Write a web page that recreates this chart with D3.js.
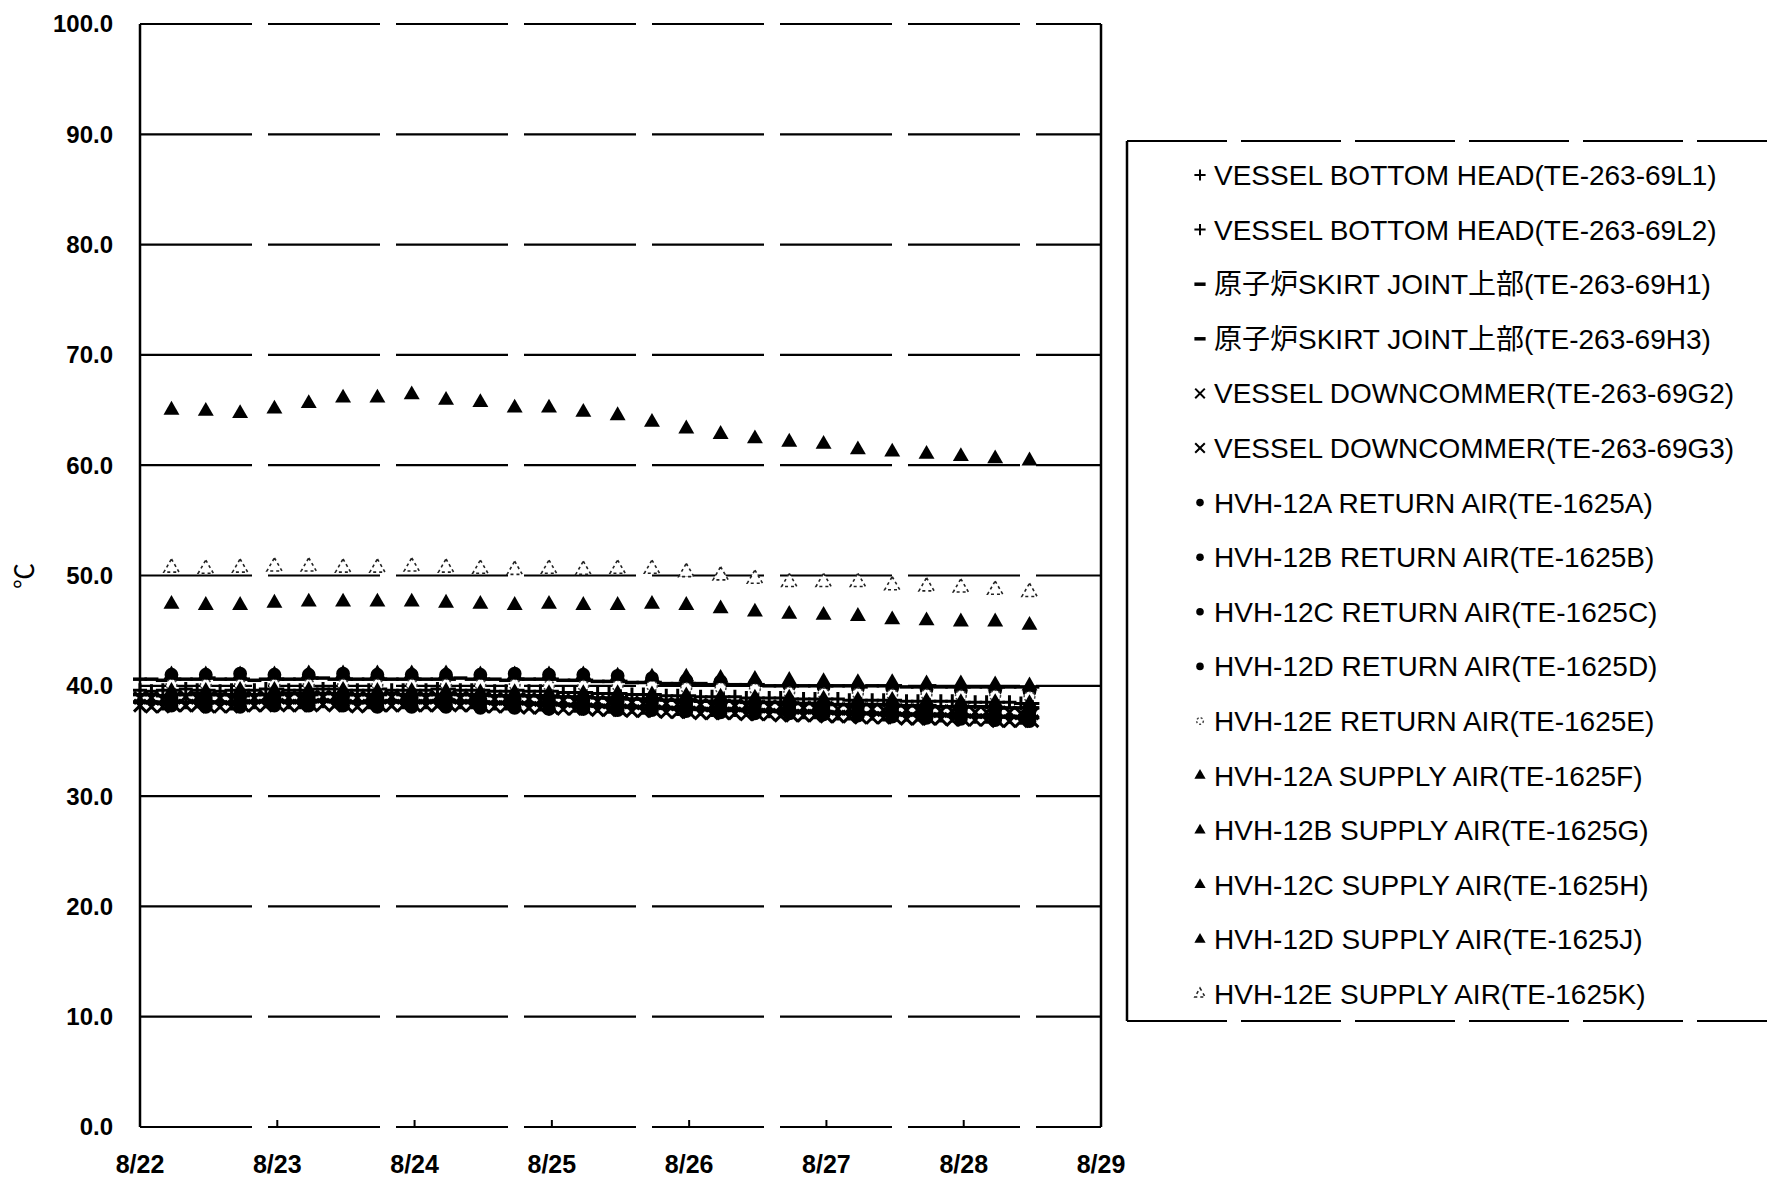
<!DOCTYPE html>
<html>
<head>
<meta charset="utf-8">
<script src="https://cdn.jsdelivr.net/npm/d3@7"></script>
<style>
  body { margin: 0; background: #fff; }
  svg { display: block; }
</style>
</head>
<body>
<script>
var svgWidth = 1767;
var svgHeight = 1182;

// time axis
var dayLabels = ["8/22", "8/23", "8/24", "8/25", "8/26", "8/27", "8/28", "8/29"];
var yTicks = [0, 10, 20, 30, 40, 50, 60, 70, 80, 90, 100];
var startDay = new Date(2011, 7, 22);

// reactor temps, every 2 h from 8/22 00:00
var reactorStepHours = 2;
var L1 = [39.6,39.5,39.6,39.6,39.7,39.6,39.6,39.5,39.6,39.6,39.6,39.7,
  39.7,39.6,39.6,39.7,39.7,39.7,39.6,39.6,39.6,39.7,39.6,39.6,
  39.6,39.6,39.7,39.7,39.6,39.6,39.6,39.5,39.5,39.6,39.5,39.5,
  39.5,39.4,39.4,39.4,39.3,39.3,39.3,39.2,39.2,39.2,39.1,39.1,
  39.1,39.0,39.0,39.0,39.0,38.9,38.9,38.9,38.9,38.8,38.8,38.8,
  38.8,38.8,38.7,38.7,38.7,38.7,38.7,38.6,38.6,38.6,38.6,38.6,
  38.5,38.5,38.5,38.5,38.5,38.4,38.4];
var L2 = [38.5,38.5,38.4,38.5,38.5,38.6,38.5,38.5,38.4,38.5,38.5,38.6,
  38.6,38.5,38.5,38.6,38.6,38.6,38.5,38.5,38.5,38.5,38.6,38.5,
  38.5,38.5,38.6,38.6,38.5,38.5,38.5,38.4,38.4,38.4,38.4,38.3,
  38.3,38.3,38.2,38.2,38.2,38.1,38.1,38.1,38.0,38.0,38.0,37.9,
  37.9,37.9,37.8,37.8,37.8,37.8,37.7,37.7,37.7,37.6,37.6,37.6,
  37.6,37.5,37.5,37.5,37.5,37.4,37.4,37.4,37.4,37.3,37.3,37.3,
  37.3,37.2,37.2,37.2,37.2,37.1,37.1];
var H1 = [40.6,40.6,40.5,40.6,40.6,40.6,40.7,40.6,40.6,40.6,40.5,40.6,
  40.6,40.6,40.6,40.7,40.7,40.6,40.6,40.6,40.6,40.6,40.6,40.6,
  40.6,40.6,40.6,40.6,40.7,40.6,40.6,40.6,40.5,40.6,40.6,40.6,
  40.6,40.5,40.5,40.5,40.4,40.4,40.4,40.3,40.3,40.3,40.2,40.2,
  40.2,40.2,40.1,40.1,40.1,40.1,40.1,40.0,40.0,40.0,40.0,40.0,
  40.0,40.0,40.0,39.9,40.0,40.0,40.0,39.9,39.9,40.0,39.9,39.9,
  39.9,39.9,39.9,39.9,39.9,39.9,39.9];
var H3 = [39.2,39.2,39.1,39.2,39.2,39.3,39.2,39.2,39.2,39.1,39.2,39.2,
  39.2,39.3,39.3,39.2,39.3,39.3,39.2,39.2,39.2,39.2,39.3,39.2,
  39.2,39.2,39.2,39.3,39.2,39.2,39.2,39.1,39.1,39.1,39.1,39.1,
  39.0,39.0,39.0,39.0,38.9,38.9,38.9,38.8,38.8,38.8,38.7,38.7,
  38.7,38.6,38.6,38.6,38.6,38.5,38.5,38.5,38.5,38.4,38.4,38.4,
  38.4,38.3,38.3,38.3,38.3,38.3,38.2,38.2,38.2,38.2,38.1,38.1,
  38.1,38.1,38.1,38.0,38.0,38.0,38.0];
var G2 = [38.9,38.9,38.8,38.9,39.0,38.9,38.9,38.9,38.8,38.9,38.9,39.0,
  39.0,38.9,38.9,39.0,39.0,39.0,38.9,38.9,38.9,38.9,39.0,38.9,
  38.9,38.9,39.0,39.0,38.9,38.9,38.9,38.8,38.8,38.8,38.8,38.7,
  38.7,38.7,38.6,38.6,38.6,38.5,38.5,38.5,38.4,38.4,38.4,38.3,
  38.3,38.3,38.2,38.2,38.2,38.2,38.1,38.1,38.1,38.0,38.0,38.0,
  38.0,37.9,37.9,37.9,37.9,37.8,37.8,37.8,37.8,37.7,37.7,37.7,
  37.7,37.6,37.6,37.6,37.6,37.5,37.5];
var G3 = [38.2,38.1,38.1,38.2,38.2,38.2,38.1,38.1,38.1,38.2,38.2,38.2,
  38.3,38.2,38.2,38.2,38.3,38.2,38.2,38.1,38.2,38.2,38.2,38.2,
  38.2,38.2,38.2,38.3,38.2,38.2,38.1,38.1,38.1,38.1,38.0,38.0,
  38.0,37.9,37.9,37.9,37.8,37.8,37.8,37.7,37.7,37.7,37.6,37.6,
  37.6,37.5,37.5,37.5,37.5,37.4,37.4,37.4,37.3,37.3,37.3,37.3,
  37.2,37.2,37.2,37.1,37.1,37.1,37.1,37.0,37.0,37.0,37.0,36.9,
  36.9,36.9,36.9,36.8,36.8,36.8,36.8];

// HVH air temps, every 6 h from 8/22 05:30
var hvhStartHour = 5.5;
var hvhStepHours = 6;
var retA = [41.0,41.0,41.1,41.0,41.0,41.1,41.0,41.0,41.0,41.0,41.1,41.0,41.0,
  40.9,40.7,40.5,40.4,40.2,40.0,39.9,39.8,39.8,39.7,39.6,39.6,39.5];
var retB = [38.2,38.1,38.1,38.2,38.2,38.2,38.1,38.1,38.1,38.0,38.0,37.9,37.9,
  37.8,37.8,37.7,37.6,37.5,37.5,37.4,37.3,37.2,37.1,37.0,36.9,36.8];
var retC = [38.6,38.5,38.6,38.6,38.7,38.6,38.6,38.6,38.5,38.5,38.4,38.4,38.3,
  38.3,38.2,38.1,38.0,37.9,37.9,37.8,37.7,37.6,37.5,37.4,37.3,37.2];
var retD = [38.9,38.9,39.0,39.0,39.0,39.0,38.9,38.9,38.9,38.8,38.8,38.7,38.7,
  38.6,38.6,38.5,38.4,38.3,38.2,38.2,38.1,38.0,37.9,37.8,37.8,37.7];
var retE = [40.1,40.1,40.1,40.1,40.1,40.1,40.1,40.1,40.1,40.1,40.1,40.0,40.0,
  40.0,40.0,39.8,39.8,39.7,39.4,39.3,39.3,39.2,39.2,39.1,39.1,39.0];
var supA = [47.4,47.3,47.3,47.5,47.6,47.6,47.6,47.6,47.5,47.4,47.3,47.4,47.3,
  47.3,47.4,47.3,47.0,46.7,46.5,46.4,46.3,46.0,45.9,45.8,45.8,45.5];
var supB = [41.0,41.0,41.0,41.0,41.1,41.1,41.1,41.1,41.1,41.0,41.0,41.0,41.0,
  40.9,40.8,40.8,40.7,40.6,40.5,40.4,40.3,40.3,40.2,40.2,40.1,40.0];
var supC = [39.5,39.5,39.6,39.6,39.6,39.6,39.5,39.5,39.5,39.4,39.4,39.3,39.3,
  39.3,39.2,39.1,39.0,38.9,38.9,38.8,38.7,38.7,38.6,38.5,38.5,38.4];
var supD = [65.0,64.9,64.7,65.1,65.6,66.1,66.1,66.4,65.9,65.7,65.2,65.2,64.8,
  64.5,63.9,63.3,62.8,62.4,62.1,61.9,61.4,61.2,61.0,60.8,60.6,60.4];
var supE = [50.7,50.6,50.7,50.8,50.8,50.7,50.7,50.8,50.7,50.6,50.5,50.6,50.5,
  50.6,50.6,50.3,50.0,49.7,49.4,49.4,49.4,49.1,49.0,48.9,48.7,48.5];

var seriesNames = [
  "VESSEL BOTTOM HEAD(TE-263-69L1)",
  "VESSEL BOTTOM HEAD(TE-263-69L2)",
  "原子炉SKIRT JOINT上部(TE-263-69H1)",
  "原子炉SKIRT JOINT上部(TE-263-69H3)",
  "VESSEL DOWNCOMMER(TE-263-69G2)",
  "VESSEL DOWNCOMMER(TE-263-69G3)",
  "HVH-12A RETURN AIR(TE-1625A)",
  "HVH-12B RETURN AIR(TE-1625B)",
  "HVH-12C RETURN AIR(TE-1625C)",
  "HVH-12D RETURN AIR(TE-1625D)",
  "HVH-12E RETURN AIR(TE-1625E)",
  "HVH-12A SUPPLY AIR(TE-1625F)",
  "HVH-12B SUPPLY AIR(TE-1625G)",
  "HVH-12C SUPPLY AIR(TE-1625H)",
  "HVH-12D SUPPLY AIR(TE-1625J)",
  "HVH-12E SUPPLY AIR(TE-1625K)"
];
var seriesValues = [L1, L2, H1, H3, G2, G3, retA, retB, retC, retD, retE, supA, supB, supC, supD, supE];
var seriesMarks = ["plus", "plus", "dash", "dash", "cross", "cross",
  "dot", "dot", "dot", "dot", "ring", "tri", "tri", "tri", "tri", "hollowTri"];

var Margins = { top: 24, left: 140 };
var plotRight = 1101;
var plotBottom = 1127;

var hour = 3600 * 1000;
var xAxe = d3.scaleTime()
  .domain([startDay, new Date(startDay.getTime() + 7 * 24 * hour)])
  .range([Margins.left, plotRight]);
var yAxe = d3.scaleLinear().domain([0, 100]).range([plotBottom, Margins.top]);

function timeOf(mark, i) {
  if (mark == "plus" || mark == "dash" || mark == "cross")
    return new Date(startDay.getTime() + i * reactorStepHours * hour);
  return new Date(startDay.getTime() + (hvhStartHour + i * hvhStepHours) * hour);
}

var svg = d3.select("body").append("svg")
  .attr("width", svgWidth)
  .attr("height", svgHeight);

svg.append("rect").attr("width", svgWidth).attr("height", svgHeight).attr("fill", "#fff");

// gridlines
svg.append("g").selectAll("line")
  .data(yTicks)
  .enter().append("line")
  .attr("x1", Margins.left).attr("x2", plotRight)
  .attr("y1", d => yAxe(d)).attr("y2", d => yAxe(d))
  .attr("stroke", "#000").attr("stroke-width", 2.2)
  .attr("stroke-dasharray", "112,16");

// left axis + right border
svg.append("line").attr("x1", Margins.left).attr("x2", Margins.left)
  .attr("y1", yAxe(100)).attr("y2", yAxe(0))
  .attr("stroke", "#000").attr("stroke-width", 2.5);
svg.append("line").attr("x1", plotRight).attr("x2", plotRight)
  .attr("y1", yAxe(100)).attr("y2", yAxe(0))
  .attr("stroke", "#000").attr("stroke-width", 2.5);

// small day ticks on the bottom line
var dayDates = dayLabels.map((d, i) => new Date(startDay.getTime() + i * 24 * hour));
svg.append("g").selectAll("line")
  .data(dayDates.slice(1, 7))
  .enter().append("line")
  .attr("x1", d => xAxe(d)).attr("x2", d => xAxe(d))
  .attr("y1", plotBottom).attr("y2", plotBottom - 7)
  .attr("stroke", "#000").attr("stroke-width", 2);

// tick labels
svg.append("g").selectAll("text")
  .data(yTicks)
  .enter().append("text")
  .attr("x", 113)
  .attr("y", d => yAxe(d))
  .attr("dy", "0.35em")
  .attr("text-anchor", "end")
  .style("font", "bold 24px 'Liberation Sans', Arial, sans-serif")
  .text(d => d3.format(".1f")(d));

svg.append("g").selectAll("text")
  .data(dayDates)
  .enter().append("text")
  .attr("x", d => xAxe(d))
  .attr("y", 1173)
  .attr("text-anchor", "middle")
  .style("font", "bold 25px 'Liberation Sans', Arial, sans-serif")
  .text((d, i) => dayLabels[i]);

svg.append("text")
  .attr("transform", "translate(34,576) rotate(-90)")
  .attr("text-anchor", "middle")
  .style("font", "26px 'Liberation Sans', 'Noto Sans CJK JP', sans-serif")
  .text("℃");

// markers
function drawMark(sel, mark, big) {
  var k = big ? 1 : 0.8;
  if (mark == "plus") {
    sel.append("path").attr("d", `M${-7*k},0H${7*k}M0,${-7*k}V${7*k}`)
      .attr("stroke", "#000").attr("stroke-width", big ? 3 : 2).attr("fill", "none");
  } else if (mark == "cross") {
    sel.append("path").attr("d", `M${-6*k},${-6*k}L${6*k},${6*k}M${-6*k},${6*k}L${6*k},${-6*k}`)
      .attr("stroke", "#000").attr("stroke-width", big ? 3 : 2).attr("fill", "none");
  } else if (mark == "dash") {
    sel.append("path").attr("d", `M${-7*k},0H${7*k}`)
      .attr("stroke", "#000").attr("stroke-width", 3.5).attr("fill", "none");
  } else if (mark == "dot") {
    sel.append("path").attr("d", d3.symbol(d3.symbolCircle, big ? 150 : 45)())
      .attr("fill", "#000");
  } else if (mark == "ring") {
    sel.append("path").attr("d", d3.symbol(d3.symbolCircle, big ? 90 : 35)())
      .attr("fill", "#fff").attr("stroke", "#444").attr("stroke-width", 1.5)
      .attr("stroke-dasharray", "2,2");
  } else if (mark == "tri") {
    sel.append("path").attr("d", d3.symbol(d3.symbolTriangle, big ? 110 : 55)())
      .attr("fill", "#000");
  } else if (mark == "hollowTri") {
    sel.append("path").attr("d", d3.symbol(d3.symbolTriangle, big ? 100 : 45)())
      .attr("fill", "#fff").attr("stroke", "#222").attr("stroke-width", 1.6)
      .attr("stroke-dasharray", "3,3");
  }
}

seriesValues.forEach(function(vals, s) {
  var mark = seriesMarks[s];
  var g = svg.append("g");
  g.selectAll("g")
    .data(vals)
    .enter().append("g")
    .attr("transform", (d, i) => `translate(${xAxe(timeOf(mark, i))},${yAxe(d)})`)
    .each(function() { drawMark(d3.select(this), mark, true); });
});

// legend
var legX = 1127, legTop = 141, legBottom = 1021;
svg.append("line").attr("x1", legX).attr("x2", legX).attr("y1", legTop).attr("y2", legBottom)
  .attr("stroke", "#000").attr("stroke-width", 2.5);
svg.append("line").attr("x1", legX).attr("x2", svgWidth).attr("y1", legTop).attr("y2", legTop)
  .attr("stroke", "#000").attr("stroke-width", 2).attr("stroke-dasharray", "100,14");
svg.append("line").attr("x1", legX).attr("x2", svgWidth).attr("y1", legBottom).attr("y2", legBottom)
  .attr("stroke", "#000").attr("stroke-width", 2).attr("stroke-dasharray", "100,14");

var legend = svg.append("g").selectAll("g")
  .data(seriesNames)
  .enter().append("g")
  .attr("transform", (d, i) => `translate(1200,${175 + i * 54.6})`);

legend.each(function(d, i) { drawMark(d3.select(this), seriesMarks[i], false); });

legend.append("text")
  .attr("x", 14)
  .attr("y", 10)
  .style("font", "28px 'Liberation Sans', 'Noto Sans CJK JP', sans-serif")
  .text(d => d);
</script>
</body>
</html>
